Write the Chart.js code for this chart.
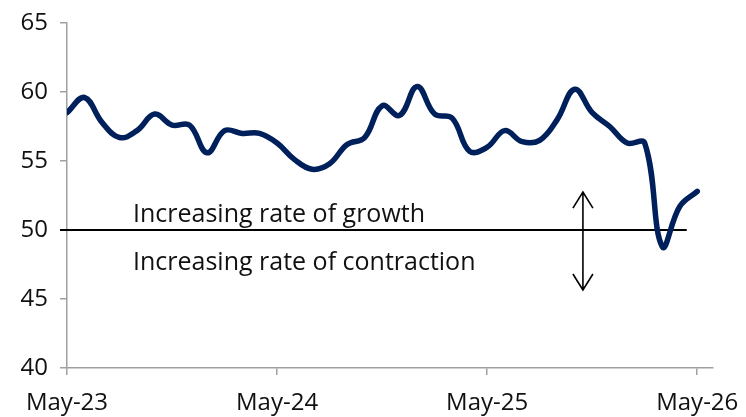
<!DOCTYPE html>
<html><head><meta charset="utf-8">
<script src="https://cdn.jsdelivr.net/npm/chart.js@4.4.1/dist/chart.umd.min.js"></script>
<style>html,body{margin:0;padding:0;background:#fff}#wrap{width:746px;height:417px}</style>
</head><body><div id="wrap"><canvas id="c" width="746" height="417"></canvas></div>
<script>
const months = ['May-23','Jun-23','Jul-23','Aug-23','Sep-23','Oct-23','Nov-23','Dec-23','Jan-24','Feb-24','Mar-24','Apr-24',
 'May-24','Jun-24','Jul-24','Aug-24','Sep-24','Oct-24','Nov-24','Dec-24','Jan-25','Feb-25','Mar-25','Apr-25',
 'May-25','Jun-25','Jul-25','Aug-25','Sep-25','Oct-25','Nov-25','Dec-25','Jan-26','Feb-26','Mar-26','Apr-26','May-26'];
const values = [58.5,59.6,57.8,56.7,57.2,58.4,57.6,57.6,55.6,57.2,57.0,57.0,
 56.3,55.1,54.4,54.8,56.2,56.7,59.0,58.3,60.4,58.4,58.1,55.7,
 56.0,57.2,56.4,56.5,58.0,60.2,58.5,57.5,56.3,56.3,48.8,51.7,52.8];
const tickLabelIdx = [0,12,24,36];
const thresholdLine = [{x:-0.4,y:50},{x:35.4,y:50}];
const labelGrowth = 'Increasing rate of growth';
const labelContraction = 'Increasing rate of contraction';
const textPos = {x:3.77, growthY:50.6, contractionY:47.1};
const arrowPos = {x:29.47, top:52.75, bottom:45.65};

const FONT = '"Open Sans", Lato, sans-serif';
const annot = {
  id:'annot',
  afterDatasetsDraw(chart){
    const {ctx, scales:{x,y}} = chart;
    ctx.save();
    ctx.fillStyle='#111';
    ctx.font = '25px ' + FONT;
    ctx.textBaseline='alphabetic';
    ctx.fillText(labelGrowth, x.getPixelForValue(textPos.x), y.getPixelForValue(textPos.growthY));
    ctx.fillText(labelContraction, x.getPixelForValue(textPos.x), y.getPixelForValue(textPos.contractionY));
    const ax = x.getPixelForValue(arrowPos.x), t = y.getPixelForValue(arrowPos.top), b = y.getPixelForValue(arrowPos.bottom);
    ctx.strokeStyle='#000'; ctx.lineWidth=1.6;
    ctx.beginPath(); ctx.moveTo(ax,t); ctx.lineTo(ax,b);
    ctx.moveTo(ax-10,t+16); ctx.lineTo(ax,t); ctx.lineTo(ax+10,t+16);
    ctx.moveTo(ax-10,b-16); ctx.lineTo(ax,b); ctx.lineTo(ax+10,b-16);
    ctx.stroke();
    ctx.restore();
  }
};

new Chart(document.getElementById('c'), {
  type:'line',
  data:{datasets:[
    {data: values.map((v,i)=>({x:i,y:v})), borderColor:'#00205b', borderWidth:5.5, pointRadius:0, tension:0.4, fill:false, borderCapStyle:'round', borderJoinStyle:'round'},
    {data: thresholdLine, borderColor:'#000', borderWidth:2, pointRadius:0, tension:0, clip:false}
  ]},
  options:{
    responsive:false, animation:false, devicePixelRatio:1,
    layout:{padding:{top:23,right:33,left:0,bottom:0}},
    plugins:{legend:{display:false}, tooltip:{enabled:false}},
    scales:{
      x:{type:'linear', min:0, max:36.9,
        afterBuildTicks(s){ s.ticks = tickLabelIdx.map(v=>({value:v})); },
        afterFit(s){ s.height = 49; s.paddingLeft = 0; s.paddingRight = 0; },
        ticks:{autoSkip:false, maxRotation:0, padding:14, color:'#111', font:{family:FONT,size:24},
          callback:(v)=>months[v]},
        grid:{drawOnChartArea:false, drawTicks:true, tickLength:7, color:'#a0a0a0', lineWidth:1.5},
        border:{color:'#a0a0a0', width:1.5}
      },
      y:{min:40, max:65,
        afterFit(s){ s.width = 67; s.paddingTop = 0; s.paddingBottom = 0; },
        ticks:{stepSize:5, padding:12, color:'#111', font:{family:FONT,size:24}},
        grid:{drawOnChartArea:false, drawTicks:true, tickLength:7, color:'#a0a0a0', lineWidth:1.5},
        border:{color:'#a0a0a0', width:1.5}
      }
    }
  },
  plugins:[annot]
});
</script></body></html>
